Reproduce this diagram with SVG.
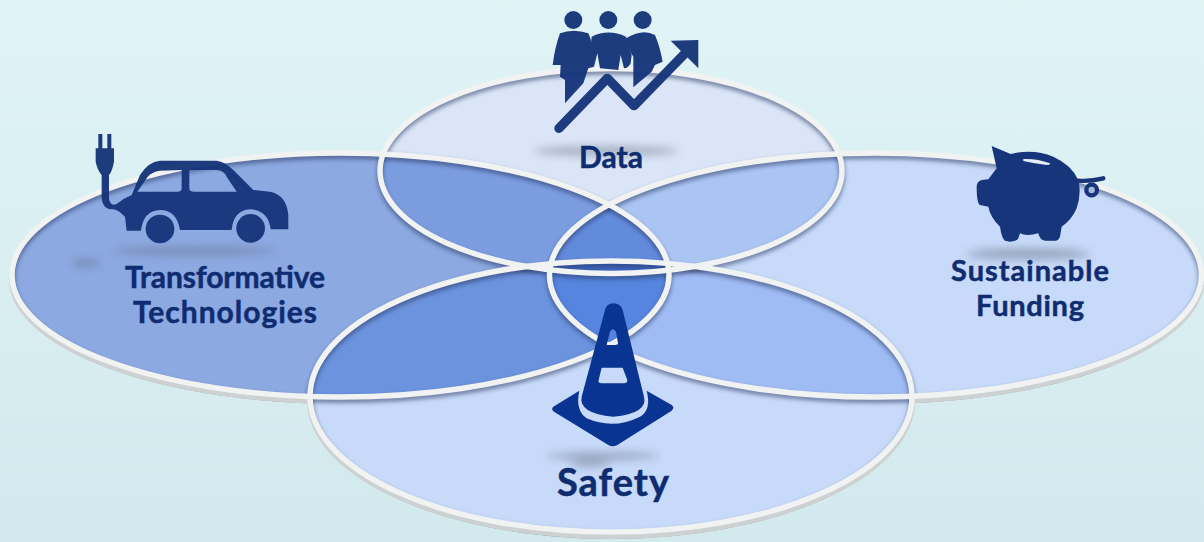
<svg xmlns="http://www.w3.org/2000/svg" width="1204" height="542" viewBox="0 0 1204 542">
<style>
.ring{fill:none;stroke:#F1F2F2;stroke-width:5.5}
.bev{fill:none;stroke:#CDD1D2;stroke-width:6}
.edge{fill:none;stroke:#8F9698;stroke-width:1}
.shd{fill:none;stroke:#26365E;stroke-width:6;opacity:.55;filter:url(#b2)}
.lbl{font-family:"Lato","Liberation Sans",sans-serif;font-weight:700;fill:#0F2C70;stroke:#0F2C70;stroke-width:.5;text-anchor:middle}
.ico{fill:#16357A}
.sh{fill:#5A6478;opacity:.42;filter:url(#bl)}
</style>
<defs>
<linearGradient id="bg" x1="0" y1="0" x2="0" y2="1"><stop offset="0" stop-color="#E0F4F6"/><stop offset="1" stop-color="#D2E9ED"/></linearGradient>
<filter id="bl" x="-30%" y="-200%" width="160%" height="500%"><feGaussianBlur stdDeviation="4"/></filter>
<filter id="b2" x="-5%" y="-10%" width="110%" height="120%"><feGaussianBlur stdDeviation="2"/></filter>
<ellipse id="eL" cx="340.5" cy="275" rx="328.5" ry="122"/>
<ellipse id="eR" cx="875.5" cy="275" rx="326" ry="122"/>
<ellipse id="eD" cx="611" cy="171" rx="231" ry="102.5"/>
<ellipse id="eS" cx="611" cy="396.5" rx="301" ry="135.5"/>
<clipPath id="cL"><use href="#eL"/></clipPath>
<clipPath id="cD"><use href="#eD"/></clipPath>
<clipPath id="cS"><use href="#eS"/></clipPath>
<clipPath id="cLR" clip-path="url(#cL)"><use href="#eR"/></clipPath>
<clipPath id="cDS" clip-path="url(#cD)"><use href="#eS"/></clipPath>
<clipPath id="cU"><use href="#eL"/><use href="#eR"/><use href="#eD"/><use href="#eS"/></clipPath>
</defs>
<rect width="1204" height="542" fill="url(#bg)"/>
<g id="bevel">
<use href="#eL" class="edge" y="6.5"/><use href="#eR" class="edge" y="6.5"/><use href="#eS" class="edge" y="6.5"/>
<use href="#eL" class="bev" y="4"/><use href="#eR" class="bev" y="4"/><use href="#eS" class="bev" y="4"/>
</g>
<g id="regions">
<use href="#eL" fill="#8CA9E1"/>
<use href="#eR" fill="#C7DAF9"/>
<use href="#eD" fill="#DAE5F7"/>
<use href="#eS" fill="#C8DAF9"/>
<g clip-path="url(#cD)"><use href="#eL" fill="#7B9DE0"/><use href="#eR" fill="#ABC5F3"/></g>
<g clip-path="url(#cS)"><use href="#eL" fill="#6C93DE"/><use href="#eR" fill="#9FBCF4"/></g>
<g clip-path="url(#cLR)"><rect x="540" y="150" width="140" height="112" fill="#638BDC"/><rect x="540" y="262" width="140" height="150" fill="#5585DE"/></g>
<g clip-path="url(#cDS)"><rect x="500" y="255" width="220" height="25" fill="#6C93DE"/></g>
<g clip-path="url(#cLR)"><g clip-path="url(#cDS)"><rect x="540" y="255" width="140" height="25" fill="#3E69C2"/></g></g>
</g>
<g id="ring-shadow" clip-path="url(#cU)">
<use href="#eL" class="shd" y="3"/><use href="#eR" class="shd" y="3"/><use href="#eD" class="shd" y="3"/><use href="#eS" class="shd" y="3"/>
</g>
<g id="connectors">
<use href="#eL" class="ring"/>
<use href="#eR" class="ring"/>
<use href="#eD" class="ring"/>
<use href="#eS" class="ring"/>
</g>
<g id="data">
<ellipse class="sh" cx="606" cy="151" rx="72" ry="5"/>
<g transform="translate(520 0) scale(.3333)" opacity=".96">
<circle class="ico" cx="160" cy="60" r="27"/><circle class="ico" cx="265" cy="60" r="27"/><circle class="ico" cx="368" cy="60" r="27"/>
<path class="ico" d="M120 100Q160 85 205 100Q218 125 225 190L205 205L190 250L135 310L135 240L120 230L122 195L98 195Q105 140 120 100Z"/>
<path class="ico" d="M215 110Q265 85 318 110L335 165L332 190Q325 205 312 205L302 165L295 210L240 205L232 160L222 200L205 205Z"/>
<path class="ico" d="M318 115Q368 85 405 105Q420 140 428 185L405 195L395 215L340 262L340 170Q325 150 318 115Z"/>
<path d="M117 385L262 235L342 317L505 150" fill="none" stroke="#16357A" stroke-width="28" stroke-linejoin="round" stroke-linecap="round"/>
<path class="ico" d="M452 122L535 120L535 205Z"/>
</g>
<text class="lbl" x="611" y="168" font-size="30" textLength="64">Data</text>
</g>
<g id="transformative-technologies">
<ellipse class="sh" cx="195" cy="251" rx="82" ry="4"/><ellipse class="sh" cx="86" cy="263" rx="14" ry="4"/>
<g transform="translate(60 120) scale(.3333)" opacity=".96">
<rect class="ico" x="115" y="42" width="12" height="45"/><rect class="ico" x="142" y="42" width="12" height="45"/>
<path class="ico" d="M107 85H162V125Q155 160 146 165L125 165Q112 150 107 125Z"/>
<path class="ico" d="M125 150V235Q128 270 160 268Q172 268 195 290L215 225Q190 235 170 252Q150 260 147 235V150Z"/>
<path class="ico" fill-rule="evenodd" d="M200 332L195 290Q190 262 215 225L240 165Q265 125 300 122L470 122Q495 125 520 150L580 210L630 215Q680 225 685 285L685 328L632 328Q625 270 570 268Q520 272 515 330L360 330Q350 270 300 270Q250 272 243 332ZM232 215L262 172Q275 155 300 152L365 150L365 205Q365 215 355 215ZM388 150L470 150Q490 150 500 170L530 215L400 215Q388 215 388 205Z"/>
<circle class="ico" cx="300" cy="327" r="43"/><circle class="ico" cx="572" cy="325" r="43"/>
</g>
<text class="lbl" x="225" y="288" font-size="30" textLength="200">Transformative</text>
<text class="lbl" x="225" y="323" font-size="30" textLength="184">Technologies</text>
</g>
<g id="sustainable-funding">
<ellipse class="sh" cx="1028" cy="254" rx="62" ry="6"/>
<g transform="translate(940 130) scale(.3333)">
<path class="ico" d="M155 48L212 72Q280 55 340 80Q395 105 415 150Q425 190 410 235Q395 270 365 290L360 320Q355 335 335 332L315 332Q300 332 295 310Q260 320 240 310L235 325Q230 335 210 335L195 332Q185 325 180 290Q150 260 145 230L120 225Q110 220 110 170Q110 155 125 150L145 148L170 115Z"/>
<path d="M250 87Q290 85 330 100Q332 105 320 105Q280 100 250 93Z" fill="#E8EEF8"/>
<path d="M415 152Q450 155 490 145" stroke="#16357A" stroke-width="13" stroke-linecap="round" fill="none"/>
<circle cx="455" cy="180" r="16" fill="#A9BAD6" stroke="#16357A" stroke-width="13"/>
</g>
<text class="lbl" x="1030" y="281" font-size="29" textLength="158">Sustainable</text>
<text class="lbl" x="1030" y="316" font-size="29" textLength="108">Funding</text>
</g>
<g id="safety">
<ellipse class="sh" cx="603" cy="456" rx="56" ry="4"/><ellipse class="sh" cx="590" cy="463" rx="20" ry="4"/>
<g transform="translate(500 200) scale(.3333)">
<path fill="#093492" fill-rule="evenodd" d="M315 330Q320 310 340 310Q362 310 368 330L432 590Q445 640 340 650Q235 640 245 590ZM330 395Q338 380 348 395L355 435L320 435ZM305 503L368 503L382 540Q382 550 372 550L305 550Q293 550 296 540Z"/>
<path fill="#093492" d="M238 572L160 620Q152 628 162 635L325 735Q338 742 352 735L515 632Q525 622 515 615L440 572Q455 630 420 650Q340 690 260 655Q225 630 238 572Z"/>
</g>
<text class="lbl" x="613" y="496" font-size="38" textLength="112">Safety</text>
</g>
</svg>
